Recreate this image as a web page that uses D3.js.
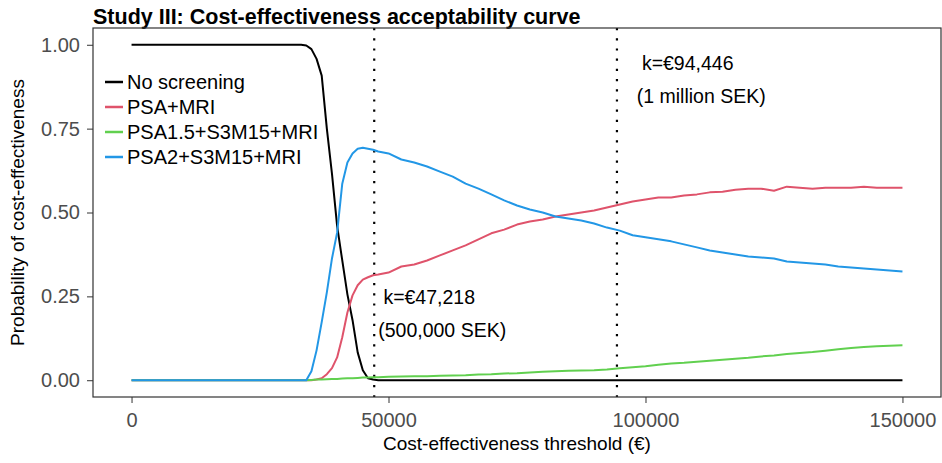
<!DOCTYPE html>
<html lang="en">
    <head>
        <meta charset="UTF-8">
        <title>Cost-effectiveness acceptability curve</title>
        <style>
            body {
                margin: 0;
                background: #fff;
            }
            svg {
                display: block;
                font-family: "Liberation Sans", Arial, sans-serif;
            }
            .axis path {
                display: none;
            }
            .axis line {
                stroke: #333;
            }
            .axis text {
                fill: #4d4d4d;
                font-size: 20px;
            }
            .line {
                fill: none;
                stroke-width: 2px;
                stroke-linejoin: round;
            }
        </style>
    </head>

    <body>
        <script src="https://d3js.org/d3.v7.min.js"></script>
        <script>

            // willingness-to-pay thresholds (EUR)
            var thresholds = [0, 30000, 33000, 34000, 35000, 36000, 37000, 38000, 39000, 40000,
                41000, 42000, 43000, 44000, 45000, 46000, 47000, 48000,
                50000, 52500, 55000, 57500, 60000, 62500, 65000, 67500, 70000, 72500,
                75000, 77500, 80000, 82500, 85000, 87500, 90000, 92500, 95000, 97500,
                100000, 102500, 105000, 107500, 110000, 112500, 115000, 117500, 120000, 122500,
                125000, 127500, 130000, 132500, 135000, 137500, 140000, 142500, 145000, 147500, 150000];

            var noScreening = [1, 1, 1, 0.998, 0.987, 0.958, 0.908, 0.75, 0.615, 0.46,
                0.357, 0.256, 0.179, 0.083, 0.03, 0.006, 0.002, 0,
                0, 0, 0, 0, 0, 0, 0, 0, 0, 0,
                0, 0, 0, 0, 0, 0, 0, 0, 0, 0,
                0, 0, 0, 0, 0, 0, 0, 0, 0, 0,
                0, 0, 0, 0, 0, 0, 0, 0, 0, 0, 0];

            var psaMri = [0, 0, 0, 0, 0, 0.002, 0.006, 0.018, 0.036, 0.068,
                0.128, 0.202, 0.253, 0.283, 0.3, 0.307, 0.313, 0.315,
                0.321, 0.339, 0.345, 0.357, 0.372, 0.387, 0.402, 0.42, 0.438, 0.449,
                0.464, 0.473, 0.479, 0.488, 0.494, 0.5, 0.506, 0.515, 0.524, 0.533,
                0.539, 0.545, 0.545, 0.551, 0.554, 0.56, 0.562, 0.568, 0.571, 0.571,
                0.565, 0.577, 0.574, 0.571, 0.574, 0.574, 0.574, 0.577, 0.574, 0.574, 0.574];

            var psa15 = [0, 0, 0, 0, 0.001, 0.002, 0.002, 0.003, 0.004, 0.004,
                0.005, 0.006, 0.006, 0.007, 0.008, 0.008, 0.009, 0.009,
                0.01, 0.011, 0.012, 0.012, 0.013, 0.014, 0.015, 0.017, 0.018, 0.02,
                0.021, 0.023, 0.025, 0.027, 0.028, 0.029, 0.03, 0.032, 0.036, 0.039,
                0.042, 0.046, 0.05, 0.052, 0.055, 0.058, 0.061, 0.064, 0.067, 0.071,
                0.074, 0.078, 0.081, 0.084, 0.088, 0.092, 0.096, 0.099, 0.101, 0.103, 0.104];

            var psa2 = [0, 0, 0, 0, 0.027, 0.089, 0.173, 0.262, 0.363, 0.44,
                0.586, 0.649, 0.676, 0.69, 0.693, 0.69, 0.687, 0.682,
                0.676, 0.658, 0.649, 0.637, 0.622, 0.607, 0.586, 0.571, 0.554, 0.536,
                0.521, 0.509, 0.5, 0.488, 0.482, 0.476, 0.467, 0.455, 0.446, 0.432,
                0.426, 0.42, 0.414, 0.405, 0.396, 0.387, 0.381, 0.375, 0.369, 0.366,
                0.363, 0.354, 0.351, 0.348, 0.345, 0.339, 0.336, 0.333, 0.33, 0.327, 0.324];

            var seriesNames = ["No screening", "PSA+MRI", "PSA1.5+S3M15+MRI", "PSA2+S3M15+MRI"];
            var seriesColors = ["#000000", "#DF536B", "#61D04F", "#2297E6"];
            var seriesValues = [noScreening, psaMri, psa15, psa2];

            var xTicks = [0, 50000, 100000, 150000];
            var yTicks = [0, 0.25, 0.5, 0.75, 1];

            var refLines = [47218, 94446];
            var refLabels = [
                {x: 49000, y: 0.226, text: "k=\u20AC47,218"},
                {x: 48000, y: 0.128, text: "(500,000 SEK)"},
                {x: 99300, y: 0.926, text: "k=\u20AC94,446"},
                {x: 98300, y: 0.827, text: "(1 million SEK)"}
            ];

            var width = 942, height = 463;
            var panel = {left: 93, right: 941, top: 28, bottom: 397};

            var x = d3.scaleLinear()
                .domain([-7500, 157500])
                .range([panel.left, panel.right]);

            var y = d3.scaleLinear()
                .domain([-0.05, 1.05])
                .range([panel.bottom, panel.top]);

            var svg = d3.select("body").append("svg")
                .attr("width", width)
                .attr("height", height);

            // title
            svg.append("text")
                .attr("x", panel.left)
                .attr("y", 24)
                .attr("font-size", "21.5px")
                .attr("font-weight", "bold")
                .text("Study III: Cost-effectiveness acceptability curve");

            svg.append("g")
                .attr("class", "axis axis--x")
                .attr("transform", "translate(0," + panel.bottom + ")")
                .call(d3.axisBottom(x).tickValues(xTicks).tickFormat(d3.format("d")).tickSize(6).tickPadding(10));

            svg.append("g")
                .attr("class", "axis axis--y")
                .attr("transform", "translate(" + panel.left + ",0)")
                .call(d3.axisLeft(y).tickValues(yTicks).tickFormat(d3.format(".2f")).tickSize(6).tickPadding(7));

            // axis titles
            svg.append("text")
                .attr("x", (panel.left + panel.right) / 2)
                .attr("y", 450)
                .attr("text-anchor", "middle")
                .attr("font-size", "19px")
                .text("Cost-effectiveness threshold (\u20AC)");

            svg.append("text")
                .attr("transform", "translate(24," + (panel.top + panel.bottom) / 2 + ") rotate(-90)")
                .attr("text-anchor", "middle")
                .attr("font-size", "19px")
                .text("Probability of cost-effectiveness");

            // reference thresholds
            svg.selectAll(".ref")
                .data(refLines)
                .enter().append("line")
                .attr("class", "ref")
                .attr("x1", function(d) { return x(d); })
                .attr("x2", function(d) { return x(d); })
                .attr("y1", panel.top)
                .attr("y2", panel.bottom)
                .attr("stroke", "#000")
                .attr("stroke-width", 2.2)
                .attr("stroke-dasharray", "2.2 8");

            var line = d3.line()
                .x(function(d) { return x(d[0]); })
                .y(function(d) { return y(d[1]); });

            seriesValues.forEach(function(vals, i) {
                svg.append("path")
                    .attr("class", "line")
                    .attr("stroke", seriesColors[i])
                    .attr("stroke-width", i === 0 ? 2.7 : 2)
                    .attr("d", line(thresholds.map(function(t, j) { return [t, vals[j]]; })));
            });

            // annotation labels
            svg.selectAll(".label")
                .data(refLabels)
                .enter().append("text")
                .attr("class", "label")
                .attr("x", function(d) { return x(d.x); })
                .attr("y", function(d) { return y(d.y); })
                .attr("font-size", "19.5px")
                .text(function(d) { return d.text; });

            // legend
            var legend = svg.append("g")
                .attr("transform", "translate(105,82)");

            var items = legend.selectAll("g")
                .data(seriesNames)
                .enter().append("g")
                .attr("transform", function(d, i) { return "translate(0," + (i * 25) + ")"; });

            items.append("line")
                .attr("x1", 0)
                .attr("x2", 18)
                .attr("stroke", function(d, i) { return seriesColors[i]; })
                .attr("stroke-width", 2.5);

            items.append("text")
                .attr("x", 22)
                .attr("dy", "0.35em")
                .attr("font-size", "20px")
                .text(function(d) { return d; });

            // panel border
            svg.append("rect")
                .attr("x", panel.left)
                .attr("y", panel.top)
                .attr("width", panel.right - panel.left)
                .attr("height", panel.bottom - panel.top)
                .attr("fill", "none")
                .attr("stroke", "#333")
                .attr("stroke-width", 1.2);
        </script>
    </body>

</html>
